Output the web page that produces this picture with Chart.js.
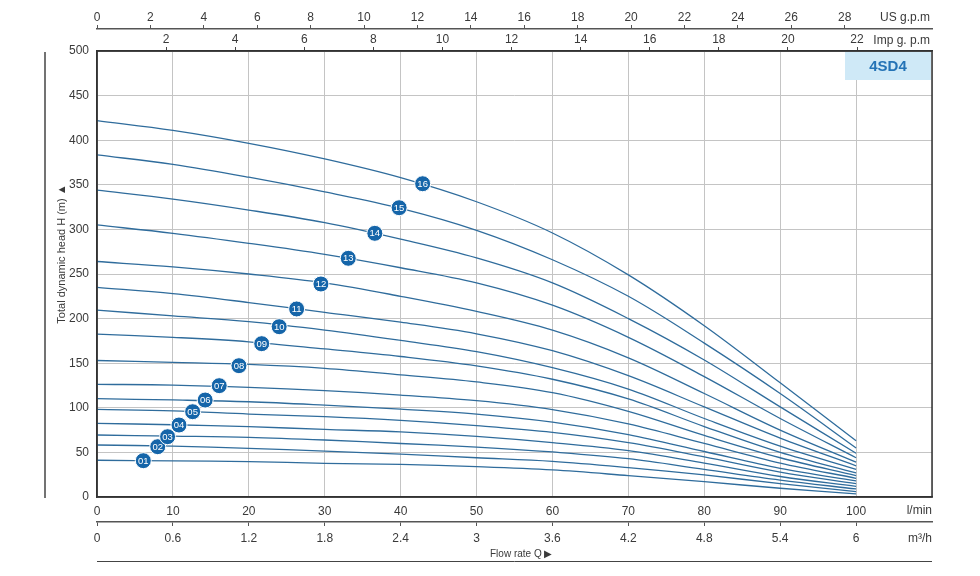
<!DOCTYPE html>
<html>
<head>
<meta charset="utf-8">
<script src="https://cdn.jsdelivr.net/npm/chart.js@4.4.1/dist/chart.umd.min.js"></script>
<style>
  body { margin: 0; background: #fff; }
  #wrap { width: 980px; height: 576px; }
</style>
</head>
<body>
<div id="wrap"><canvas id="pumpChart" width="980" height="576"></canvas></div>
<script>
const flowPoints = [0, 10, 20, 30, 40, 50, 60, 70, 80, 90, 100];

// Head (m) per model, one array per number of stages
const head01 = [41.2, 40.5, 39.6, 37.8, 36.5, 34, 30.3, 24, 17.2, 9.8, 3.5];
const head02 = [58.3, 57, 54.6, 51.5, 48, 44, 40, 33, 24.7, 15, 6];
const head03 = [69.5, 68.3, 66.9, 63.9, 60, 56, 50.5, 43, 31, 19, 9];
const head04 = [82.6, 81, 78.8, 75.8, 73, 68, 61, 52, 38, 23, 12];
const head05 = [98.3, 96.5, 93, 90, 85.8, 80, 72.5, 61, 45, 28, 15];
const head06 = [110.2, 108.8, 106.8, 103, 98.5, 93, 84, 70, 51, 32, 18];
const head07 = [126.3, 125.5, 123, 119.2, 114.3, 108, 98, 82, 60, 38, 21];
const head08 = [153, 151, 148.7, 144.3, 137, 129, 117, 96, 69, 44, 24];
const head09 = [182.7, 179, 174, 166, 157.5, 147, 132, 110, 79, 50, 27];
const head10 = [209.6, 203, 196.5, 187, 175.5, 163, 145, 121, 88, 57, 31];
const head11 = [235, 228, 218, 207, 196, 183, 164, 136, 101, 66, 35];
const head12 = [264, 258, 250, 240, 225, 208, 187, 156, 116, 75, 39];
const head13 = [305, 295.6, 284.4, 272, 257, 240, 215, 179, 135, 88, 44];
const head14 = [344, 334, 321.7, 307.5, 289, 268, 240, 200, 153.6, 101, 49];
const head15 = [383.5, 373, 358.5, 342, 323.6, 299, 266, 225, 172.5, 116, 55];
const head16 = [422, 411, 396.5, 379, 358, 331, 296, 249, 192, 128, 63];

const curveHeads = [head01, head02, head03, head04, head05, head06, head07, head08,
                    head09, head10, head11, head12, head13, head14, head15, head16];

// Round model badges sitting on each curve
const badgeNames = ['01', '02', '03', '04', '05', '06', '07', '08',
                    '09', '10', '11', '12', '13', '14', '15', '16'];
const badgeFlow = [6.1, 8.0, 9.3, 10.8, 12.6, 14.25, 16.1, 18.7, 21.7, 24.0, 26.3, 29.5, 33.1, 36.6, 39.8, 42.9];
const badgeHead = [40.7, 56.4, 67.6, 80.7, 95.6, 108.7, 124.8, 147.2, 171.9, 190.9, 210.8, 238.8, 267.6, 295.6, 324.3, 351.2];

// Axis ranges
const flowMax = 110;        // l/min at right border
const m3hMax = 6.6;         // m3/h at right border
const usGpmMax = 31.27;     // US g.p.m at right border
const impGpmMax = 24.17;    // Imp g.p.m at right border
const headMax = 500;

const modelName = '4SD4';
const unitLabels = ['US g.p.m', 'Imp g. p.m', 'l/min', 'm\u00B3/h'];
const yTitle = 'Total dynamic head H (m) \u25B2';
const xTitle = 'Flow rate Q \u25B6';

Chart.defaults.font.family = '"Liberation Sans", Arial, sans-serif';
Chart.defaults.font.size = 12;
Chart.defaults.color = '#3a3a3a';

const curveColor = '#2f6c9c';
const gridColor = '#c4c4c4';
const frameColor = '#333';

const datasets = curveHeads.map((heads, i) => ({
    type: 'line',
    label: badgeNames[i],
    data: flowPoints.map((f, k) => ({ x: f, y: heads[k] })),
    borderColor: curveColor,
    borderWidth: 1.3,
    pointRadius: 0,
    fill: false,
    tension: 0.35,
    order: 1
}));

datasets.push({
    type: 'scatter',
    label: 'badges',
    data: badgeFlow.map((f, i) => ({ x: f, y: badgeHead[i] })),
    pointRadius: 8,
    pointHoverRadius: 8,
    backgroundColor: '#1565a9',
    borderColor: '#ffffff',
    borderWidth: 1,
    order: 0
});

// Extra drawing: frame, unit names, titles, model box
const decorPlugin = {
    id: 'decor',
    afterDatasetsDraw(chart) {
        const ctx = chart.ctx;
        const meta = chart.getDatasetMeta(chart.data.datasets.length - 1);
        ctx.save();
        ctx.fillStyle = '#fff';
        ctx.font = '9.5px "Liberation Sans Narrow", "Liberation Sans", Arial';
        ctx.textAlign = 'center';
        ctx.textBaseline = 'middle';
        meta.data.forEach((pt, i) => {
            ctx.fillText(badgeNames[i], pt.x, pt.y + 0.5);
        });
        ctx.restore();
    },
    afterDraw(chart) {
        const ctx = chart.ctx;
        const area = chart.chartArea;
        const xs = chart.scales.x;
        const m3 = chart.scales.xm3;
        ctx.save();

        // plot frame
        ctx.strokeStyle = frameColor;
        ctx.lineWidth = 1.5;
        ctx.strokeRect(area.left, area.top, area.right - area.left, area.bottom - area.top);

        // model box
        ctx.fillStyle = '#cfe9f7';
        ctx.fillRect(area.right - 87, area.top + 1, 86, 28);
        ctx.fillStyle = '#2473b6';
        ctx.font = 'bold 15px "Liberation Sans", Arial';
        ctx.textAlign = 'center';
        ctx.textBaseline = 'middle';
        ctx.fillText(modelName, area.right - 44, area.top + 16);

        // unit names at the right end of each axis
        ctx.fillStyle = '#3a3a3a';
        ctx.font = '12px "Liberation Sans", Arial';
        ctx.textAlign = 'right';
        ctx.fillText(unitLabels[0], area.right - 2, 18);
        ctx.fillText(unitLabels[1], area.right - 2, 41);
        ctx.fillText(unitLabels[2], area.right, xs.top + 14);
        ctx.fillText(unitLabels[3], area.right, m3.top + 17);

        // axis titles
        ctx.font = '10px "Liberation Sans", Arial';
        ctx.textAlign = 'left';
        ctx.fillText(xTitle, 490, m3.bottom - 8);
        ctx.save();
        ctx.translate(62, 254);
        ctx.rotate(-Math.PI / 2);
        ctx.textAlign = 'center';
        ctx.font = '11px "Liberation Sans", Arial';
        ctx.fillText(yTitle, 0, 0);
        ctx.restore();

        // outer rules
        ctx.strokeStyle = '#444';
        ctx.lineWidth = 1.5;
        ctx.beginPath();
        ctx.moveTo(45, area.top + 1);
        ctx.lineTo(45, area.bottom + 1);
        ctx.stroke();
        ctx.lineWidth = 1;
        ctx.beginPath();
        ctx.moveTo(area.left, m3.bottom - 0.5);
        ctx.lineTo(area.right, m3.bottom - 0.5);
        ctx.stroke();
        ctx.restore();
    }
};

const fmt = v => String(Number(v.toFixed(1)));

new Chart(document.getElementById('pumpChart'), {
    type: 'line',
    data: { datasets: datasets },
    options: {
        responsive: false,
        animation: false,
        layout: { padding: { top: 8, right: 48, bottom: 14, left: 0 } },
        plugins: {
            legend: { display: false },
            tooltip: { enabled: false }
        },
        scales: {
            x: {
                type: 'linear',
                position: 'bottom',
                weight: 0,
                min: 0,
                max: flowMax,
                ticks: {
                    stepSize: 10,
                    autoSkip: false,
                    maxRotation: 0,
                    padding: 7,
                    callback: v => (v <= 100 ? fmt(v) : '')
                },
                grid: { color: gridColor, drawTicks: false },
                border: { color: frameColor, width: 1.5 },
                afterFit: s => { s.height = 25; }
            },
            xm3: {
                type: 'linear',
                position: 'bottom',
                weight: 1,
                min: 0,
                max: m3hMax,
                ticks: { stepSize: 0.6, autoSkip: false, maxRotation: 0, padding: 5, callback: v => fmt(v) },
                afterBuildTicks: s => { s.ticks = s.ticks.filter(t => t.value <= 6.01); },
                grid: { drawOnChartArea: false, tickLength: 4, color: '#555' },
                border: { color: '#555', width: 1.5 },
                afterFit: s => { s.height = 40; }
            },
            ximp: {
                type: 'linear',
                position: 'top',
                weight: 0,
                min: 0,
                max: impGpmMax,
                ticks: { stepSize: 2, autoSkip: false, maxRotation: 0, padding: 0, callback: v => fmt(v) },
                afterBuildTicks: s => { s.ticks = s.ticks.filter(t => t.value > 0 && t.value <= 22.01); },
                grid: { drawOnChartArea: false, tickLength: 4, color: '#444' },
                border: { color: frameColor, width: 1.5 },
                afterFit: s => { s.height = 22; }
            },
            xus: {
                type: 'linear',
                position: 'top',
                weight: 1,
                min: 0,
                max: usGpmMax,
                ticks: { stepSize: 2, autoSkip: false, maxRotation: 0, padding: 0, callback: v => fmt(v) },
                afterBuildTicks: s => { s.ticks = s.ticks.filter(t => t.value <= 28.01); },
                grid: { drawOnChartArea: false, tickLength: 4, color: '#555' },
                border: { color: '#555', width: 1.5 },
                afterFit: s => { s.height = 21; }
            },
            y: {
                type: 'linear',
                position: 'left',
                min: 0,
                max: headMax,
                ticks: { stepSize: 50, padding: 8 },
                grid: { color: gridColor, drawTicks: false },
                border: { color: frameColor, width: 1.5 },
                afterFit: s => { s.width = 97; }
            }
        }
    },
    plugins: [decorPlugin]
});
</script>
</body>
</html>
